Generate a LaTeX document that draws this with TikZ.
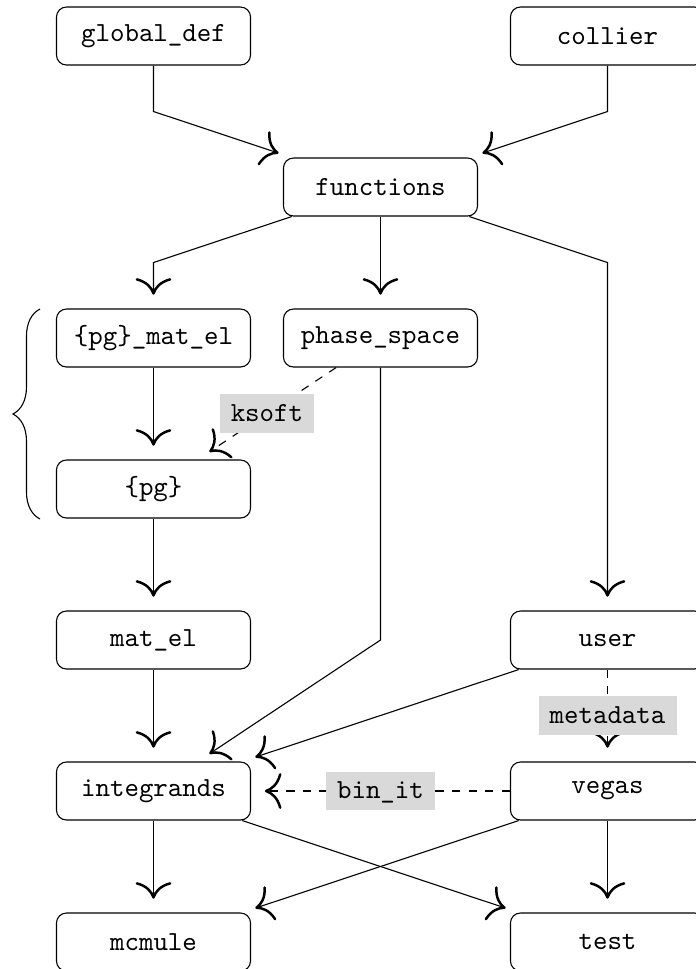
\documentclass[tikz,border=0pt]{standalone}
\usetikzlibrary{arrows.meta,decorations.pathreplacing}
\begin{document}
\begin{tikzpicture}[x=0.36232pt,y=-0.36232pt,
  box/.style={draw, rounded corners=3.6pt, minimum width=70.3pt, minimum height=21pt, font=\ttfamily, inner sep=0pt},
  arr/.style={-{Computer Modern Rightarrow[length=6pt, width=13pt, line width=0.9pt]}, shorten >=5pt},
  lbl/.style={fill=black!15, font=\ttfamily, inner xsep=4pt, inner ysep=3.6pt, text height=6.1pt, text depth=0.5pt},
]
\useasboundingbox (0,0) rectangle (696,969);
% nodes
\node[box] (gd) at (153.5,36) {global\_def};
\node[box] (col) at (607.5,36) {collier};
\node[box] (fun) at (380.5,187) {functions};
\node[box] (pgm) at (153.5,338) {\{pg\}\_mat\_el};
\node[box] (ps) at (380.5,338) {phase\_space};
\node[box] (pg) at (153.5,489) {\{pg\}};
\node[box] (me) at (153.5,640) {mat\_el};
\node[box] (us) at (607.5,640) {user};
\node[box] (int) at (153.5,791) {integrands};
\node[box] (veg) at (607.5,791) {vegas};
\node[box] (mc) at (153.5,942) {mcmule};
\node[box] (tst) at (607.5,942) {test};
% bend points
\coordinate (b1) at (153.5,111.5);
\coordinate (b2) at (607.5,111.5);
\coordinate (b3) at (153.5,262.5);
\coordinate (b4) at (607.5,262.5);
\coordinate (b5) at (380.5,640);
% connectors
\draw[arr] (gd.south) -- (b1) -- (fun);
\draw[arr] (col.south) -- (b2) -- (fun);
\draw[arr] (fun) -- (b3) -- (pgm);
\draw[arr] (fun) -- (ps);
\draw[arr] (fun) -- (b4) -- (us);
\draw[arr] (pgm) -- (pg);
\draw[arr, dashed] (ps) -- node[lbl] (ks) {ksoft} (pg);
\draw[arr] (pg) -- (me);
\draw[arr] (ps.south) -- (b5) -- (int);
\draw[arr] (me) -- (int);
\draw[arr] (us) -- (int);
\draw[arr, dashed] (us) -- node[lbl] (md) {metadata} (veg);
\draw[arr, dashed] (veg) -- node[lbl] (bi) {bin\_it} (int);
\draw[arr] (int) -- (mc);
\draw[arr] (int) -- (tst);
\draw[arr] (veg) -- (mc);
\draw[arr] (veg) -- (tst);
% brace
\coordinate (brb) at (40,519);
\coordinate (brt) at (40,309);
\draw[decorate, decoration={brace, amplitude=9.8pt}] (brb) -- (brt);
\end{tikzpicture}
\end{document}
